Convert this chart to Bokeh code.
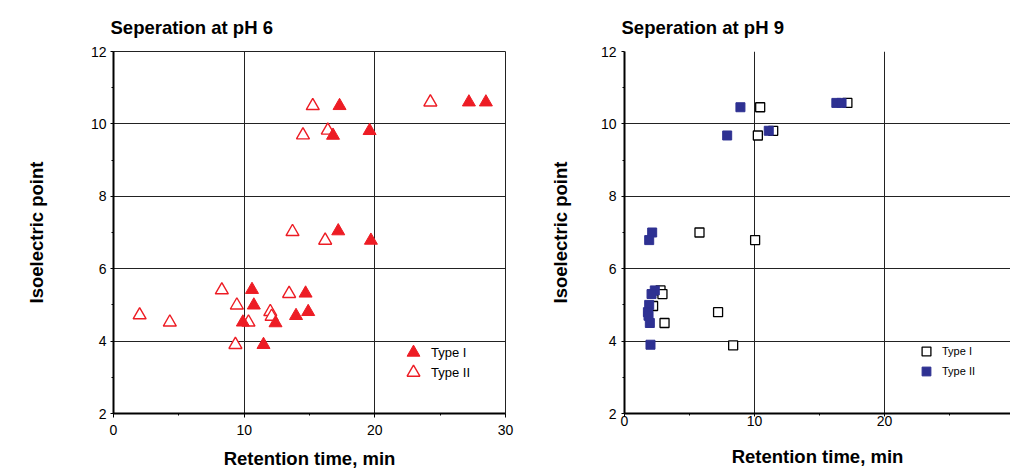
from bokeh.plotting import figure
from bokeh.layouts import row
from bokeh.models import Legend, LegendItem, Range1d, FixedTicker
from bokeh.embed import file_html
from bokeh.resources import INLINE

# ---- data ----
ph6_type1_rt = [17.3, 27.2, 28.5, 16.8, 19.6, 17.2, 19.7, 10.6, 10.74, 9.9, 11.48, 12.4, 13.97, 14.7, 14.9]
ph6_type1_pi = [10.5, 10.6, 10.6, 9.68, 9.81, 7.04, 6.78, 5.42, 4.99, 4.52, 3.9, 4.5, 4.7, 5.32, 4.81]
ph6_type2_rt = [15.25, 24.25, 14.5, 16.4, 13.7, 16.2, 2.0, 4.31, 8.29, 9.44, 9.33, 10.33, 12.0, 12.1, 13.44]
ph6_type2_pi = [10.5, 10.6, 9.69, 9.82, 7.02, 6.78, 4.72, 4.52, 5.41, 4.99, 3.9, 4.52, 4.81, 4.68, 5.31]

ph9_type1_rt = [10.44, 17.15, 10.26, 11.44, 5.77, 10.05, 2.77, 2.92, 2.2, 7.2, 3.08, 8.36]
ph9_type1_pi = [10.46, 10.58, 9.68, 9.81, 7.0, 6.79, 5.4, 5.3, 4.97, 4.8, 4.5, 3.88]
ph9_type2_rt = [8.92, 16.3, 16.7, 7.9, 11.1, 2.13, 1.9, 2.33, 2.08, 1.9, 1.8, 1.85, 1.95, 2.0]
ph9_type2_pi = [10.46, 10.58, 10.58, 9.68, 9.81, 7.0, 6.79, 5.4, 5.3, 5.0, 4.8, 4.7, 4.5, 3.9]

x_ticks = [0, 10, 20, 30]
y_ticks = [2, 4, 6, 8, 10, 12]
x_minor = [5, 15, 25]
y_minor = [3, 5, 7, 9, 11]

titles = ["Seperation at pH 6", "Seperation at pH 9"]
x_label = "Retention time, min"
y_label = "Isoelectric point"
legend_labels = ["Type I", "Type II"]

RED = "#ED1C24"
BLUE = "#2E3192"
FONT = "Liberation Sans"


def make_fig(title, width, border_left, border_right, border_top, border_bottom, x_end, outline,
             xlab_standoff, xaxis_standoff, ylab_standoff, yaxis_standoff, xtick_out):
    p = figure(width=width, height=472, output_backend="svg", toolbar_location=None,
               x_range=Range1d(0, x_end), y_range=Range1d(2, 12),
               min_border_left=border_left, min_border_right=border_right,
               min_border_top=border_top, min_border_bottom=border_bottom)
    p.title.text = title
    p.title.text_font = FONT
    p.title.text_font_size = "18.5px"
    p.title.text_font_style = "bold"
    p.title.text_color = "black"
    p.title.align = "left"
    p.title.offset = -3
    p.title.standoff = 27
    p.outline_line_color = "#222222" if outline else None
    p.outline_line_width = 1
    for ax, ticks, minor in ((p.xaxis[0], x_ticks, x_minor), (p.yaxis[0], y_ticks, y_minor)):
        ax.ticker = FixedTicker(ticks=ticks, minor_ticks=minor)
        ax.axis_line_color = "black"
        ax.axis_line_width = 2
        ax.major_tick_line_color = "black"
        ax.major_tick_line_width = 1
        ax.major_tick_out = 3
        ax.major_tick_in = 0
        ax.minor_tick_line_color = "black"
        ax.minor_tick_out = 2
        ax.minor_tick_in = 0
        ax.major_label_text_font = FONT
        ax.major_label_text_font_size = "14px"
        ax.major_label_text_color = "black"
        ax.axis_label_text_font = FONT
        ax.axis_label_text_font_size = "18.5px"
        ax.axis_label_text_font_style = "bold"
        ax.axis_label_text_color = "black"
    p.xaxis.major_tick_out = xtick_out
    p.xaxis.axis_label = x_label
    p.yaxis.axis_label = y_label
    p.xaxis.major_label_standoff = xlab_standoff
    p.xaxis.axis_label_standoff = xaxis_standoff
    p.yaxis.major_label_standoff = ylab_standoff
    p.yaxis.axis_label_standoff = yaxis_standoff
    for g in (p.xgrid[0], p.ygrid[0]):
        g.grid_line_color = "#222222"
        g.grid_line_width = 1
        g.grid_line_alpha = 1
    p.background_fill_color = "white"
    p.border_fill_color = "white"
    return p


def single_legend(label, renderer, loc, glyph, standoff, font_size):
    return Legend(items=[LegendItem(label=label, renderers=[renderer])],
                  location=loc, padding=0, spacing=0, margin=0,
                  glyph_width=glyph, glyph_height=glyph, label_height=16,
                  label_standoff=standoff, label_text_font=FONT,
                  label_text_font_size=font_size, label_text_color="black",
                  border_line_color=None, background_fill_alpha=0)


# ---- pH 6 ----
p1 = make_fig(titles[0], 518, 113, 13, 50, 59, 30, True, 7, 10, 4, 41, 4)
r1b = p1.scatter(ph6_type2_rt, ph6_type2_pi, marker="triangle", size=13,
                 fill_color="white", line_color=RED, line_width=1.4)
r1a = p1.scatter(ph6_type1_rt, ph6_type1_pi, marker="triangle", size=13,
                 fill_color=RED, line_color=RED, line_width=1)
p1.add_layout(single_legend(legend_labels[0], r1a, (284, 45), 32, 2, "13px"), "center")
p1.add_layout(single_legend(legend_labels[1], r1b, (284, 25), 32, 2, "13px"), "center")

# ---- pH 9 ----
p2 = make_fig(titles[1], 492, 106, 0, 51, 57, 29.7, False, -1, 17, 5, 27, 3)
r2a = p2.scatter(ph9_type1_rt, ph9_type1_pi, marker="square", size=9,
                 fill_color="white", line_color="black", line_width=1.3)
r2b = p2.scatter(ph9_type2_rt, ph9_type2_pi, marker="square", size=9,
                 fill_color=BLUE, line_color=BLUE, line_width=1)
p2.add_layout(single_legend(legend_labels[0], r2a, (291, 51), 22, 5, "11px"), "center")
p2.add_layout(single_legend(legend_labels[1], r2b, (291, 31), 22, 5, "11px"), "center")

layout = row(p1, p2)
open("out.html", "w").write(file_html(layout, INLINE))
